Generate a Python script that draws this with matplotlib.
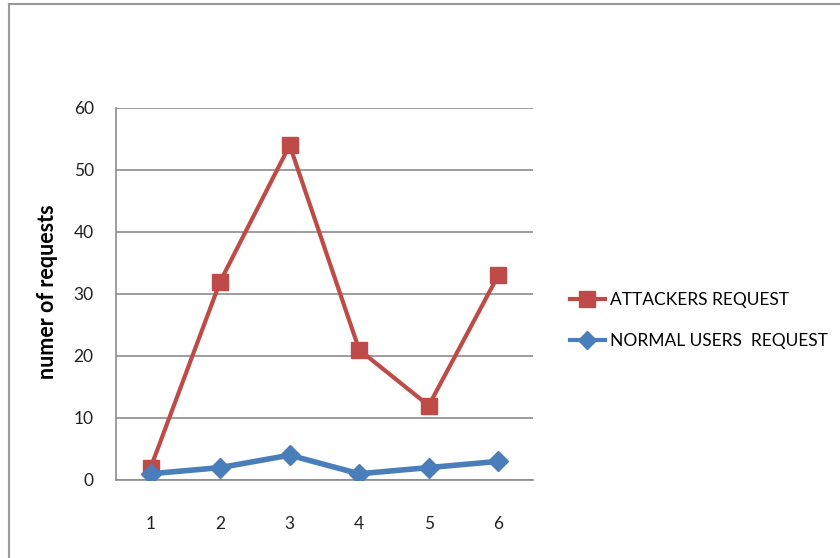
import matplotlib.pyplot as plt
from matplotlib.lines import Line2D

categories = [1, 2, 3, 4, 5, 6]
attackers = [2, 32, 54, 21, 12, 33]
normal_users = [1, 2, 4, 1, 2, 3]
yticks = [0, 10, 20, 30, 40, 50, 60]

plt.rcParams['font.family'] = ['Lato', 'DejaVu Sans']

red = '#BE4B48'
blue = '#4A7EBB'

fig = plt.figure(figsize=(8.4, 5.58), dpi=100)
ax = fig.add_axes([0.138, 0.1398, 0.4965, 0.6667])

ax.plot(categories, attackers, color=red, lw=3, marker='s', ms=11,
        label='ATTACKERS REQUEST', zorder=3)
ax.plot(categories, normal_users, color=blue, lw=4, marker='D', ms=10,
        label='NORMAL USERS  REQUEST', zorder=4)

ax.set_xlim(0.5, 6.5)
ax.set_ylim(0, 60)
ax.set_yticks(yticks)
ax.set_xticks(categories)
ax.grid(axis='y', color='#8c8c8c', lw=1.2)
ax.set_axisbelow(True)
for side in ['top', 'right']:
    ax.spines[side].set_visible(False)
for side in ['left', 'bottom']:
    ax.spines[side].set_color('#8c8c8c')
    ax.spines[side].set_linewidth(1.2)
ax.tick_params(axis='y', length=0, pad=16, labelsize=12.5, colors='#222222')
ax.tick_params(axis='x', length=0, pad=26, labelsize=12.5, colors='#222222')

fig.text(0.057, 0.477, 'numer of requests', rotation=90, ha='center', va='center',
         fontsize=15.5, fontweight='bold')

handles = [Line2D([], [], color=red, lw=3, marker='s', ms=11),
           Line2D([], [], color=blue, lw=3, marker='D', ms=9)]
fig.legend(handles, ['ATTACKERS REQUEST', 'NORMAL USERS  REQUEST'],
           loc='center left', bbox_to_anchor=(0.660, 0.4256), frameon=False,
           fontsize=12.5, handlelength=2.0, handletextpad=0.3, labelspacing=1.45)

# outer border (left and top edges)
fig.add_artist(Line2D([0.011, 0.011], [0, 0.992], color='#999999', lw=1.5))
fig.add_artist(Line2D([0.011, 1.0], [0.992, 0.992], color='#999999', lw=1.5))

fig.savefig('out.png', dpi=100)
